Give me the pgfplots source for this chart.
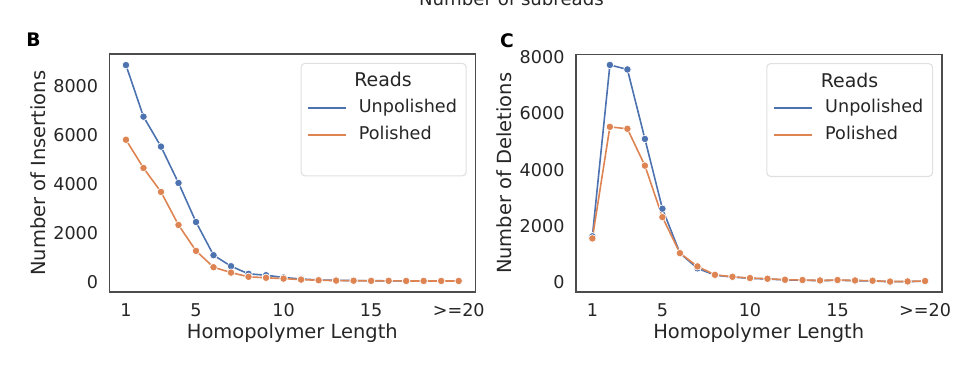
\documentclass[border=0pt]{standalone}
\usepackage{fontspec}
\setmainfont{DejaVu Sans}
\usepackage{pgfplots}
\usepackage{pgfplotstable}
\pgfplotsset{compat=1.18}
\definecolor{sbblue}{HTML}{4C72B0}
\definecolor{sborange}{HTML}{DD8452}
\definecolor{txt}{HTML}{262626}

\pgfplotstableread{
x unpol pol
1 8840 5800
2 6740 4650
3 5520 3675
4 4040 2330
5 2450 1275
6 1100 610
7 650 390
8 340 220
9 285 180
10 190 146
11 130 105
12 90 80
13 75 65
14 65 60
15 60 55
16 55 55
17 50 50
18 45 50
19 45 50
20 50 50
}\insdata

\pgfplotstableread{
x unpol pol
1 1630 1555
2 7720 5520
3 7560 5450
4 5090 4140
5 2610 2310
6 1030 1030
7 490 560
8 250 260
9 180 190
10 135 145
11 112 120
12 78 85
13 68 75
14 52 60
15 66 75
16 52 60
17 42 50
18 15 20
19 20 25
20 32 40
}\deldata

\pgfplotsset{
  panel/.style={
    scale only axis,
    width=274.5pt,
    xmin=0.05, xmax=20.95,
    xtick={1,5,10,15,20},
    xticklabels={1,5,10,15,{>=20}},
    ytick={0,2000,4000,6000,8000},
    major tick length=0pt,
    axis line style={black!70, line width=1.25pt},
    tick label style={font=\fontsize{13.2}{15}\selectfont, text=txt, inner sep=0pt},
    yticklabel style={xshift=-8.2pt},
    xticklabel style={yshift=-8pt},
    /pgf/number format/assume math mode=true,
    /pgf/number format/1000 sep={},
    scaled y ticks=false,
    xlabel={Homopolymer Length},
    every axis x label/.style={at={([yshift=-30.3pt]rel axis cs:0.5,0)}, anchor=center, font=\fontsize{14.6}{17}\selectfont, text=txt},
    every axis y label/.style={at={([xshift=-53.5pt]rel axis cs:0,0.5)}, rotate=90, anchor=center, font=\fontsize{14.6}{17}\selectfont, text=txt},
    legend cell align=left,
    legend image code/.code={\draw[##1, mark=none, line width=1.2pt] (0pt,0pt) -- (28.5pt,0pt);},
    legend style={draw=none, fill=none, at={(rel axis cs:0.540,0.718)}, anchor=west,
      inner sep=0pt, column sep=9pt, row sep=7pt,
      font=\fontsize{13.2}{15}\selectfont, text=txt,
      nodes={inner sep=0pt, text height=10pt, text depth=3pt}},
  },
  sbline/.style={color=#1, line width=1.2pt, mark=*, mark size=2.8pt,
    mark options={fill=#1, draw=white, line width=0.5pt}},
}

\begin{document}
\begin{tikzpicture}
\begin{axis}[panel, at={(82pt,71.8pt)}, anchor=south west, height=178.5pt,
  ymin=-410, ymax=9280, ylabel={Number of Insertions}]
  \draw[black!12, line width=0.8pt, rounded corners=3pt, fill=white]
    (rel axis cs:0.524,0.489) rectangle (rel axis cs:0.975,0.962);
  \node[font=\fontsize{14.2}{17}\selectfont, text=txt] at (rel axis cs:0.748,0.893) {Reads};
  \addplot[sbline=sbblue] table[x=x, y=unpol] {\insdata};
  \addlegendentry{Unpolished}
  \addplot[sbline=sborange] table[x=x, y=pol] {\insdata};
  \addlegendentry{Polished}
\end{axis}

\begin{axis}[panel, at={(431.8pt,71.8pt)}, anchor=south west, height=178.3pt,
  ymin=-360, ymax=8090, ylabel={Number of Deletions}]
  \draw[black!12, line width=0.8pt, rounded corners=3pt, fill=white]
    (rel axis cs:0.522,0.487) rectangle (rel axis cs:0.975,0.962);
  \node[font=\fontsize{14.2}{17}\selectfont, text=txt] at (rel axis cs:0.748,0.893) {Reads};
  \addplot[sbline=sbblue] table[x=x, y=unpol] {\deldata};
  \addlegendentry{Unpolished}
  \addplot[sbline=sborange] table[x=x, y=pol] {\deldata};
  \addlegendentry{Polished}
\end{axis}

\node[font=\bfseries\fontsize{14}{16}\selectfont, text=black] at (25.1pt,261pt) {B};
\node[font=\bfseries\fontsize{14}{16}\selectfont, text=black] at (380.3pt,260.3pt) {C};
\node[font=\fontsize{13.6}{16}\selectfont, text=txt, anchor=base] at (383.6pt,286.5pt) {Number of subreads};

\pgfresetboundingbox
\useasboundingbox (0,0) rectangle (724.5pt,291pt);
\end{tikzpicture}
\end{document}
